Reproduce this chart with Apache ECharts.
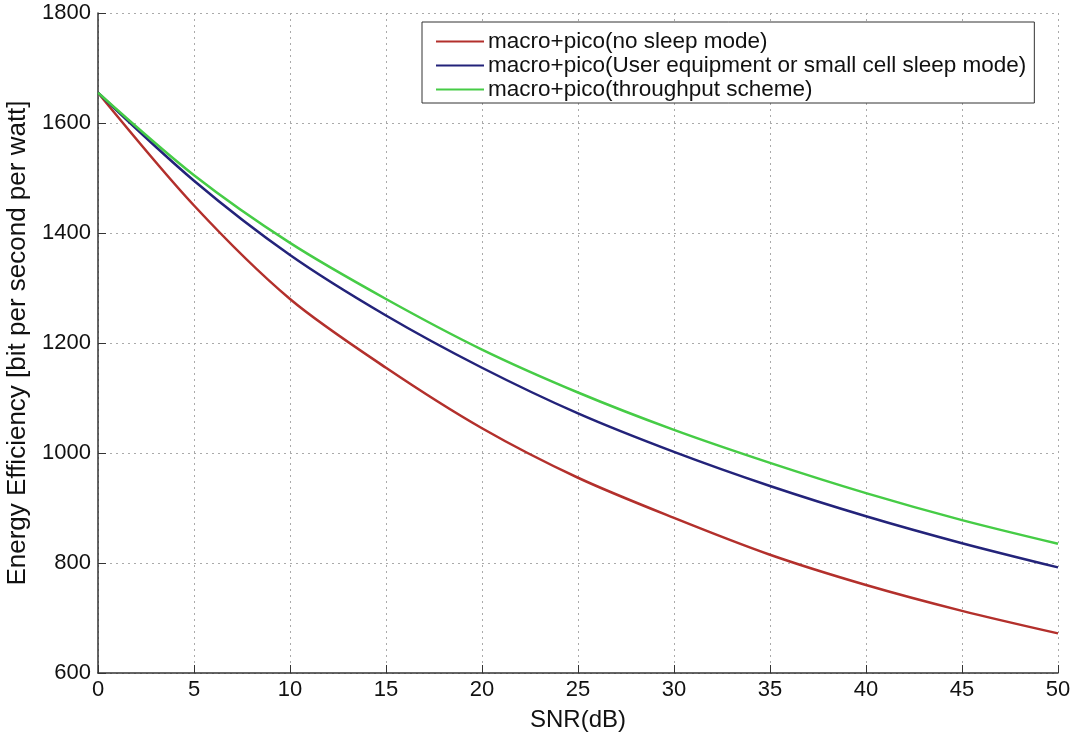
<!DOCTYPE html>
<html>
<head>
<meta charset="utf-8">
<script src="https://cdn.jsdelivr.net/npm/echarts@6/dist/echarts.min.js"></script>
<style>html,body{margin:0;padding:0;background:#fff}#c{width:1081px;height:732px}</style>
</head>
<body>
<div id="c"></div>
<script>
const snr = [0, 5, 10, 15, 20, 25, 30, 35, 40, 45, 50];
const noSleep = [1655, 1450, 1280, 1155, 1045, 955, 882, 815, 760, 713, 672];
const ueSleep = [1655, 1495, 1360, 1250, 1155, 1072, 1002, 940, 885, 836, 792];
const throughput = [1655, 1505, 1382, 1280, 1188, 1110, 1042, 982, 927, 878, 835];
const seriesNames = [
  'macro+pico(no sleep mode)',
  'macro+pico(User equipment or small cell sleep mode)',
  'macro+pico(throughput scheme)'
];
const colors = ['#b3302c', '#23237a', '#46cc46'];

const toPairs = arr => snr.map((x, i) => [x, arr[i]]);
const font = 'Liberation Sans, Arial, sans-serif';

const chart = echarts.init(document.getElementById('c'), null, {renderer: 'canvas'});
chart.setOption({
  animation: false,
  backgroundColor: '#fff',
  grid: {left: 98, right: 23, top: 13, bottom: 59, containLabel: false, outerBoundsMode: 'none'},
  legend: {
    orient: 'vertical',
    left: 422, top: 22,
    data: seriesNames,
    icon: 'rect',
    itemWidth: 48, itemHeight: 2,
    itemGap: 1,
    padding: [8, 8, 2, 14],
    borderColor: '#333', borderWidth: 1,
    backgroundColor: '#fff',
    textStyle: {fontFamily: font, fontSize: 22.5, color: '#111', padding: [0, 0, 0, -1]}
  },
  xAxis: {
    type: 'value', min: 0, max: 50, interval: 5,
    name: 'SNR(dB)', nameLocation: 'middle', nameGap: 35,
    nameTextStyle: {fontFamily: font, fontSize: 24, color: '#111'},
    axisLine: {show: true, lineStyle: {color: '#333', width: 1.5}},
    axisTick: {show: true, inside: true, length: 8, lineStyle: {color: '#333'}},
    axisLabel: {fontFamily: font, fontSize: 22, color: '#111', margin: 6},
    splitLine: {show: true, lineStyle: {color: '#aaa', type: [2, 4], width: 1}}
  },
  yAxis: {
    type: 'value', min: 600, max: 1800, interval: 200,
    name: 'Energy Efficiency [bit per second per watt]', nameLocation: 'middle', nameGap: 66,
    nameTextStyle: {fontFamily: font, fontSize: 26, color: '#111'},
    axisLine: {show: true, lineStyle: {color: '#333', width: 1.5}},
    axisTick: {show: true, inside: true, length: 8, lineStyle: {color: '#333'}},
    axisLabel: {fontFamily: font, fontSize: 22, color: '#111', margin: 7, formatter: v => String(v)},
    splitLine: {show: true, lineStyle: {color: '#aaa', type: [2, 4], width: 1}}
  },
  series: seriesNames.map((n, i) => ({
    name: n,
    type: 'line',
    data: toPairs([noSleep, ueSleep, throughput][i]),
    smooth: 0.3,
    symbol: 'none',
    lineStyle: {color: colors[i], width: 2.5},
    itemStyle: {color: colors[i]}
  }))
});
</script>
</body>
</html>
